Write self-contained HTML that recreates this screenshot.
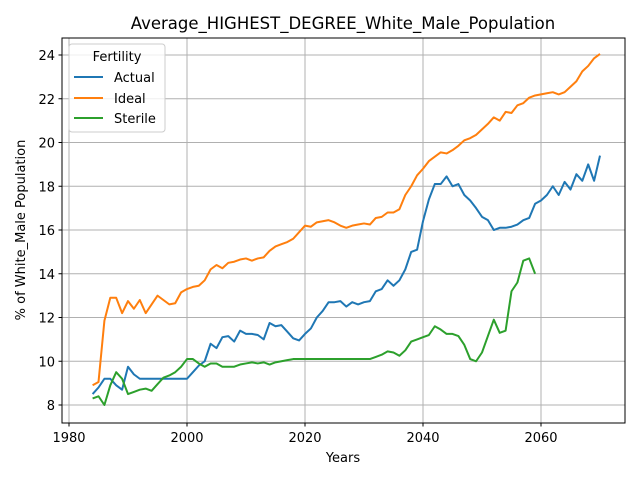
<!DOCTYPE html>
<html><head><meta charset="utf-8"><style>
body{margin:0;background:#fff;}
svg text{font-family:"DejaVu Sans","Liberation Sans",sans-serif;}
</style></head><body>
<svg id="chart" width="640" height="480" xmlns="http://www.w3.org/2000/svg">
<rect width="640" height="480" fill="#fff"/>
<g id="grid"></g>
<g id="series"></g>
<rect x="62" y="38" width="563" height="385" fill="none" stroke="#000" stroke-width="1"/>
<g id="ticks"></g>
<text x="343" y="29" text-anchor="middle" font-size="16.5">Average_HIGHEST_DEGREE_White_Male_Population</text>
<text x="343" y="462" text-anchor="middle" font-size="13">Years</text>
<text x="25" y="230" text-anchor="middle" font-size="13" transform="rotate(-90 25 230)">% of White_Male Population</text>
<g>
<rect x="69" y="44" width="96" height="88" rx="3" fill="#fff" fill-opacity="0.8" stroke="#ccc"/>
<text x="117" y="61" text-anchor="middle" font-size="13">Fertility</text>
<line x1="74" y1="77" x2="103" y2="77" stroke="#1f77b4" stroke-width="2"/>
<text x="114" y="82" font-size="13">Actual</text>
<line x1="74" y1="98" x2="103" y2="98" stroke="#ff7f0e" stroke-width="2"/>
<text x="114" y="103" font-size="13">Ideal</text>
<line x1="74" y1="118" x2="103" y2="118" stroke="#2ca02c" stroke-width="2"/>
<text x="114" y="123" font-size="13">Sterile</text>
</g>
</svg>
<script>
const xTicks = [1980, 2000, 2020, 2040, 2060];
const yTicks = [8, 10, 12, 14, 16, 18, 20, 22, 24];
const startYear = 1984;
const actual = [8.5,8.8,9.2,9.2,8.9,8.7,9.75,9.4,9.2,9.2,9.2,9.2,9.2,9.2,9.2,9.2,9.2,9.5,9.8,10.0,10.8,10.6,11.1,11.15,10.9,11.4,11.25,11.25,11.2,11.0,11.75,11.6,11.65,11.35,11.05,10.95,11.25,11.5,12.0,12.3,12.7,12.7,12.75,12.5,12.7,12.6,12.7,12.75,13.2,13.3,13.7,13.45,13.7,14.2,15.0,15.1,16.4,17.4,18.1,18.1,18.45,18.0,18.1,17.6,17.35,17.0,16.6,16.45,16.0,16.1,16.1,16.15,16.25,16.45,16.55,17.2,17.35,17.6,18.0,17.6,18.2,17.85,18.55,18.25,19.0,18.25,19.4];
const ideal = [8.9,9.05,11.85,12.9,12.9,12.2,12.75,12.4,12.8,12.2,12.6,13.0,12.8,12.6,12.65,13.15,13.3,13.4,13.45,13.7,14.2,14.4,14.25,14.5,14.55,14.65,14.7,14.6,14.7,14.75,15.05,15.25,15.35,15.45,15.6,15.9,16.2,16.15,16.35,16.4,16.45,16.35,16.2,16.1,16.2,16.25,16.3,16.25,16.55,16.6,16.8,16.8,16.95,17.6,18.0,18.5,18.8,19.15,19.35,19.55,19.5,19.65,19.85,20.1,20.2,20.35,20.6,20.85,21.15,21.0,21.4,21.35,21.7,21.8,22.05,22.15,22.2,22.25,22.3,22.2,22.3,22.55,22.8,23.25,23.5,23.85,24.05];
const sterile = [8.3,8.4,8.0,8.9,9.5,9.2,8.5,8.6,8.7,8.75,8.65,8.95,9.25,9.35,9.5,9.75,10.1,10.1,9.9,9.75,9.9,9.9,9.75,9.75,9.75,9.85,9.9,9.95,9.9,9.95,9.85,9.95,10.0,10.05,10.1,10.1,10.1,10.1,10.1,10.1,10.1,10.1,10.1,10.1,10.1,10.1,10.1,10.1,10.2,10.3,10.45,10.4,10.25,10.5,10.9,11.0,11.1,11.2,11.6,11.45,11.25,11.25,11.15,10.75,10.1,10.0,10.4,11.15,11.9,11.3,11.4,13.2,13.6,14.6,14.7,14.0];
const NS = 'http://www.w3.org/2000/svg';
function xs(v){return 69 + (v-1980)*(541-69)/80;}
function ys(v){return 405 - (v-8)*(405-55)/16;}
const grid = document.getElementById('grid');
const ticks = document.getElementById('ticks');
xTicks.forEach(t=>{
  const l=document.createElementNS(NS,'line');
  l.setAttribute('x1',xs(t));l.setAttribute('x2',xs(t));l.setAttribute('y1',38);l.setAttribute('y2',423);
  l.setAttribute('stroke','#b0b0b0');l.setAttribute('stroke-width','1');
  
  
  grid.appendChild(l);
  const k=document.createElementNS(NS,'line');
  k.setAttribute('x1',xs(t));k.setAttribute('x2',xs(t));k.setAttribute('y1',423);k.setAttribute('y2',426.5);k.setAttribute('stroke','#000');
  
  
  ticks.appendChild(k);
  const tx=document.createElementNS(NS,'text');
  tx.setAttribute('x',xs(t));tx.setAttribute('y',442);tx.setAttribute('text-anchor','middle');tx.setAttribute('font-size','13');
  tx.textContent=t;
  
  
  ticks.appendChild(tx);
});
yTicks.forEach(t=>{
  const l=document.createElementNS(NS,'line');
  l.setAttribute('x1',62);l.setAttribute('x2',625);l.setAttribute('y1',ys(t));l.setAttribute('y2',ys(t));
  l.setAttribute('stroke','#b0b0b0');l.setAttribute('stroke-width','1');
  
  
  grid.appendChild(l);
  const k=document.createElementNS(NS,'line');
  k.setAttribute('x1',58.5);k.setAttribute('x2',62);k.setAttribute('y1',ys(t));k.setAttribute('y2',ys(t));k.setAttribute('stroke','#000');
  
  
  ticks.appendChild(k);
  const tx=document.createElementNS(NS,'text');
  tx.setAttribute('x',55);tx.setAttribute('y',ys(t)+5);tx.setAttribute('text-anchor','end');tx.setAttribute('font-size','13');
  tx.textContent=t;
  
  
  ticks.appendChild(tx);
});
const series = document.getElementById('series');
function draw(arr,color,name){
  const p=document.createElementNS(NS,'polyline');
  p.setAttribute('points',arr.map((v,i)=>xs(startYear+i).toFixed(2)+','+ys(v).toFixed(2)).join(' '));
  p.setAttribute('fill','none');p.setAttribute('stroke',color);p.setAttribute('stroke-width','2');
  p.setAttribute('stroke-linejoin','round');
  
  
  series.appendChild(p);
}
draw(actual,'#1f77b4','actual-line');
draw(ideal,'#ff7f0e','ideal-line');
draw(sterile,'#2ca02c','sterile-line');
</script>
</body></html>
